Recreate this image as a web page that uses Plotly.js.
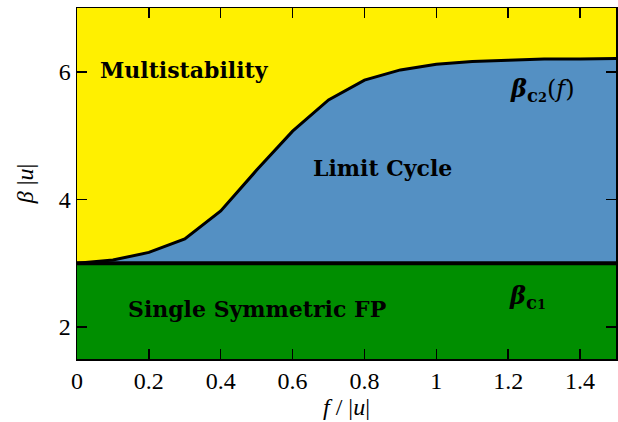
<!DOCTYPE html>
<html>
<head>
<meta charset="utf-8">
<script src="https://cdn.plot.ly/plotly-3.0.1.min.js"></script>
<style>html,body{margin:0;padding:0;background:#fff;}#chart{width:618px;height:422px;}</style>
</head>
<body>
<div id="chart"></div>
<script>
// Data
const f = [0, 0.1, 0.2, 0.3, 0.4, 0.5, 0.6, 0.7, 0.8, 0.9, 1.0, 1.1, 1.2, 1.3, 1.4, 1.5];
const betaC2 = [3.0, 3.05, 3.17, 3.38, 3.82, 4.46, 5.07, 5.56, 5.87, 6.03, 6.12, 6.16, 6.18, 6.2, 6.2, 6.21];
const betaC1Value = 3.0;
const betaC1 = f.map(() => betaC1Value);
const xTicks = [0, 0.2, 0.4, 0.6, 0.8, 1, 1.2, 1.4];
const xTickText = ['0', '0.2', '0.4', '0.6', '0.8', '1', '1.2', '1.4'];
const yTicks = [2, 4, 6];
const regionLabels = ['Multistability', 'Limit Cycle', 'Single Symmetric FP'];
const regionLabelPos = [[0.3, 6.03], [0.85, 4.5], [0.5, 2.28]];

const GREEN = '#008E00', BLUE = '#5490C3', YELLOW = '#FFF000';
const serif = '"DejaVu Serif", "Liberation Serif", serif';
const tickSerif = '"Liberation Serif", "DejaVu Serif", serif';

const traces = [
  { x: f, y: betaC1, mode: 'lines', fill: 'tozeroy', fillcolor: GREEN,
    line: {color: 'rgba(0,0,0,0)', width: 0}, hoverinfo: 'skip', showlegend: false },
  { x: f, y: betaC2, mode: 'lines', fill: 'tonexty', fillcolor: BLUE,
    line: {color: 'rgba(0,0,0,0)', width: 0}, hoverinfo: 'skip', showlegend: false },
  { x: f, y: betaC1, mode: 'lines', line: {color: '#000', width: 4}, showlegend: false },
  { x: f, y: betaC2, mode: 'lines', line: {color: '#000', width: 3}, showlegend: false }
];

const annotations = regionLabels.map((t, i) => ({
  x: regionLabelPos[i][0], y: regionLabelPos[i][1], xref: 'x', yref: 'y',
  text: '<b>' + t + '</b>', showarrow: false,
  font: {family: serif, size: 22, color: '#000'}
}));
annotations.push({
  x: 1.295, y: 5.72, xref: 'x', yref: 'y', showarrow: false,
  text: '<b><i>β</i></b><sub><b><span style="font-size:18px">c</span><span style="font-size:13px">2</span></b></sub>(<i>f</i>)',
  font: {family: serif, size: 24, color: '#000'}
});
annotations.push({
  x: 1.255, y: 2.47, xref: 'x', yref: 'y', showarrow: false,
  text: '<b><i>β</i></b><sub><b><span style="font-size:18px">c</span><span style="font-size:13px">1</span></b></sub>',
  font: {family: serif, size: 24, color: '#000'}
});

const axisCommon = {
  showgrid: false, zeroline: false, showline: true, linecolor: '#000', linewidth: 1.5,
  mirror: 'allticks', ticks: 'inside', ticklen: 10, tickwidth: 1.5, tickcolor: '#000',
  tickfont: {family: tickSerif, size: 24, color: '#000'}
};

const layout = {
  width: 618, height: 422,
  margin: {l: 77, r: 2, t: 8, b: 63},
  paper_bgcolor: '#fff', plot_bgcolor: YELLOW,
  showlegend: false,
  xaxis: Object.assign({}, axisCommon, {
    range: [0, 1.5], tickvals: xTicks, ticktext: xTickText,
    title: {text: '<i>f</i> / |<i>u</i>|', font: {family: tickSerif, size: 24, color: '#000'}, standoff: 2}
  }),
  yaxis: Object.assign({}, axisCommon, {
    range: [1.5, 7], tickvals: yTicks,
    title: {text: '<i>β</i> |<i>u</i>|', font: {family: tickSerif, size: 24, color: '#000'}, standoff: 18}
  }),
  annotations: annotations
};

Plotly.newPlot('chart', traces, layout, {displayModeBar: false, staticPlot: true});
</script>
</body>
</html>
